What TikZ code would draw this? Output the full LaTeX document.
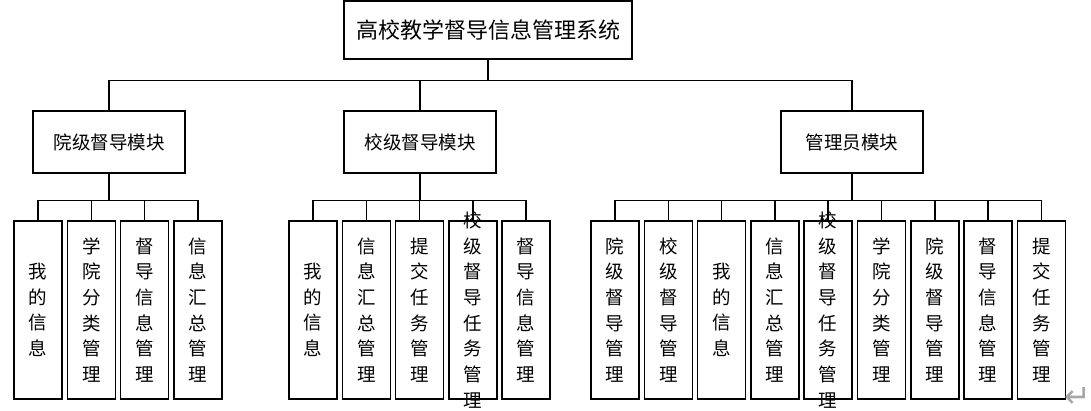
\documentclass[tikz,border=0pt]{standalone}
\usepackage{fontspec}
\newfontfamily\cjk{Noto Sans CJK SC}
\newfontfamily\symfont{DejaVu Sans}
\usepackage{tikz}
\usetikzlibrary{positioning}

\begin{document}
\begin{tikzpicture}[x=1pt,y=-1pt,line width=1.5pt]
\tikzstyle{root}=[draw, rectangle, minimum width=288pt, minimum height=58pt, font=\cjk\fontsize{22}{26}\selectfont]
\tikzstyle{module}=[draw, rectangle, minimum height=62pt, font=\cjk\fontsize{18.5}{22}\selectfont]
\tikzstyle{leaf}=[draw, rectangle, outer sep=0pt, inner xsep=0pt, inner ysep=-40pt, minimum width=48pt, minimum height=178pt, align=center, font=\cjk\fontsize{18.5}{25.7}\selectfont]
\useasboundingbox (0,0) rectangle (1091,411);

\node[root] (sys) at (488,30) {高校教学督导信息管理系统};

\node[module, minimum width=152pt] (yuan) at (109,142) {院级督导模块};
\node[module, minimum width=152pt] (xiao) at (420,142) {校级督导模块};
\node[module, minimum width=142pt] (guan) at (852,142) {管理员模块};

\node[leaf] (y1) at (38,310) {我\\的\\信\\息};
\node[leaf, right=5.3pt of y1] (y2) {学\\院\\分\\类\\管\\理};
\node[leaf, right=5.3pt of y2] (y3) {督\\导\\信\\息\\管\\理};
\node[leaf, right=5.3pt of y3] (y4) {信\\息\\汇\\总\\管\\理};

\node[leaf] (x1) at (313,310) {我\\的\\信\\息};
\node[leaf, right=5.3pt of x1] (x2) {信\\息\\汇\\总\\管\\理};
\node[leaf, right=5.3pt of x2] (x3) {提\\交\\任\\务\\管\\理};
\node[leaf, right=5.3pt of x3] (x4) {校\\级\\督\\导\\任\\务\\管\\理};
\node[leaf, right=5.3pt of x4] (x5) {督\\导\\信\\息\\管\\理};

\node[leaf] (g1) at (615,310) {院\\级\\督\\导\\管\\理};
\node[leaf, right=5.3pt of g1] (g2) {校\\级\\督\\导\\管\\理};
\node[leaf, right=5.3pt of g2] (g3) {我\\的\\信\\息};
\node[leaf, right=5.3pt of g3] (g4) {信\\息\\汇\\总\\管\\理};
\node[leaf, right=5.3pt of g4] (g5) {校\\级\\督\\导\\任\\务\\管\\理};
\node[leaf, right=5.3pt of g5] (g6) {学\\院\\分\\类\\管\\理};
\node[leaf, right=5.3pt of g6] (g7) {院\\级\\督\\导\\管\\理};
\node[leaf, right=5.3pt of g7] (g8) {督\\导\\信\\息\\管\\理};
\node[leaf, right=5.3pt of g8] (g9) {提\\交\\任\\务\\管\\理};

\node[text=gray!70, inner sep=0pt, font=\symfont\fontsize{32}{34}\selectfont] (ret) at (1078,397) {↵};

\draw (sys.south) -- ++(0,21) -| (yuan.north)
      (sys.south) -- ++(0,21) -| (xiao.north)
      (sys.south) -- ++(0,21) -| (guan.north);

\draw (yuan.south) -- ++(0,27) -| (y1.north)
      (yuan.south) -- ++(0,27) -| (y2.north)
      (yuan.south) -- ++(0,27) -| (y3.north)
      (yuan.south) -- ++(0,27) -| (y4.north);

\draw (xiao.south) -- ++(0,27) -| (x1.north)
      (xiao.south) -- ++(0,27) -| (x2.north)
      (xiao.south) -- ++(0,27) -| (x3.north)
      (xiao.south) -- ++(0,27) -| (x4.north)
      (xiao.south) -- ++(0,27) -| (x5.north);

\draw (guan.south) -- ++(0,27) -| (g1.north)
      (guan.south) -- ++(0,27) -| (g2.north)
      (guan.south) -- ++(0,27) -| (g3.north)
      (guan.south) -- ++(0,27) -| (g4.north)
      (guan.south) -- ++(0,27) -| (g5.north)
      (guan.south) -- ++(0,27) -| (g6.north)
      (guan.south) -- ++(0,27) -| (g7.north)
      (guan.south) -- ++(0,27) -| (g8.north)
      (guan.south) -- ++(0,27) -| (g9.north);
\end{tikzpicture}
\end{document}
